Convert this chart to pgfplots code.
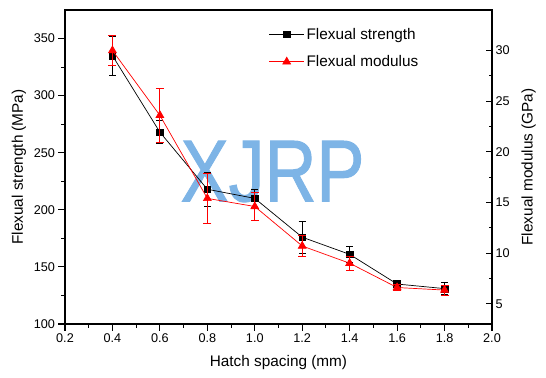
\documentclass[border=0pt]{standalone}
\usepackage{fontspec}
\setmainfont{Liberation Sans}
\newfontfamily\wmfont[FakeBold=1.2]{Liberation Sans}
\usepackage{pgfplots}
\pgfplotsset{compat=1.18}
\definecolor{wm}{RGB}{125,180,230}
\begin{document}
\begin{tikzpicture}
\pgfplotsset{
 every axis/.append style={
  scale only axis, width=427bp, height=314bp,
  xmin=0.2, xmax=2.0,
  /pgf/number format/assume math mode=true,
  tick label style={font=\fontsize{12.7}{15}\selectfont},
  label style={font=\fontsize{15.4}{18}\selectfont},
  axis line style={line width=1.3bp},
  major tick length=6.5bp, minor tick length=3.5bp,
  every tick/.style={black, line width=1.1bp},
 }
}
\begin{axis}[
  ymin=100, ymax=375,
  xtick={0.2,0.4,0.6,0.8,1.0,1.2,1.4,1.6,1.8,2.0}, minor x tick num=1,
  ytick={100,150,200,250,300,350}, minor y tick num=1,
  xtick pos=bottom, ytick pos=left,
  tick align=outside,
  xticklabel style={/pgf/number format/.cd, fixed, fixed zerofill, precision=1},
  xlabel={Hatch spacing (mm)},
  ylabel={Flexual strength (MPa)},
  xlabel style={at={(axis description cs:0.5,-0.124)}, anchor=center},
  ylabel style={at={(axis description cs:-0.108,0.5)}, anchor=center},
  legend style={at={(rel axis cs:0.477,0.95)}, anchor=north west, draw=none, fill=none,
    inner sep=0pt, row sep=11bp, font=\fontsize{15.4}{18}\selectfont, legend cell align=left},
  legend image code/.code={\draw[mark repeat=2,mark phase=2,#1] plot coordinates {(0bp,0bp) (17.5bp,0bp) (35bp,0bp)};},
]
\coordinate (SW) at (rel axis cs:0,0);
\coordinate (NE) at (rel axis cs:1,1);
\node[text=wm, inner sep=0pt, font=\wmfont\fontsize{88}{88}\selectfont] at (axis cs:1.075,233.5) {\scalebox{0.82}[1]{XJRP}};
\addplot[black, line width=0.7bp, mark=square*, mark size=3.3bp,
  error bars/.cd, y dir=both, y explicit,
  error bar style={line width=0.8bp, black},
  error mark options={rotate=90, mark size=3.5bp, line width=0.8bp, black}]
  table[x=x, y=y, y error=e] {
x y e
0.4 335 17
0.6 268 10
0.8 218 15
1.0 210 8
1.2 176 14
1.4 161 7
1.6 135 2
1.8 131 5
};
\addlegendentry{Flexual strength}
\addlegendimage{red, line width=0.7bp, mark=triangle*, mark size=4.5bp}
\addlegendentry{Flexual modulus}
\end{axis}
\begin{axis}[
  ymin=3, ymax=34,
  axis x line=none, axis y line*=right,
  ytick={5,10,15,20,25,30}, minor y tick num=1,
  tick align=inside,
  ylabel={Flexual modulus (GPa)},
  ylabel style={at={(axis description cs:1.086,0.5)}, anchor=center, rotate=0},
]
\addplot[red, line width=0.7bp, mark=triangle*, mark size=4.5bp,
  error bars/.cd, y dir=both, y explicit,
  error bar style={line width=0.8bp, red},
  error mark options={rotate=90, mark size=4bp, line width=0.8bp, red}]
  table[x=x, y=y, y error=e] {
x y e
0.4 30.0 1.5
0.6 23.6 2.7
0.8 15.4 2.5
1.0 14.6 1.4
1.2 10.7 1.0
1.4 9.0 0.7
1.6 6.6 0.3
1.8 6.35 0.5
};
\end{axis}
\pgfresetboundingbox
\path[use as bounding box] ([shift={(-65bp,-54bp)}]SW) rectangle ([shift={(54bp,10bp)}]NE);
\end{tikzpicture}
\end{document}
